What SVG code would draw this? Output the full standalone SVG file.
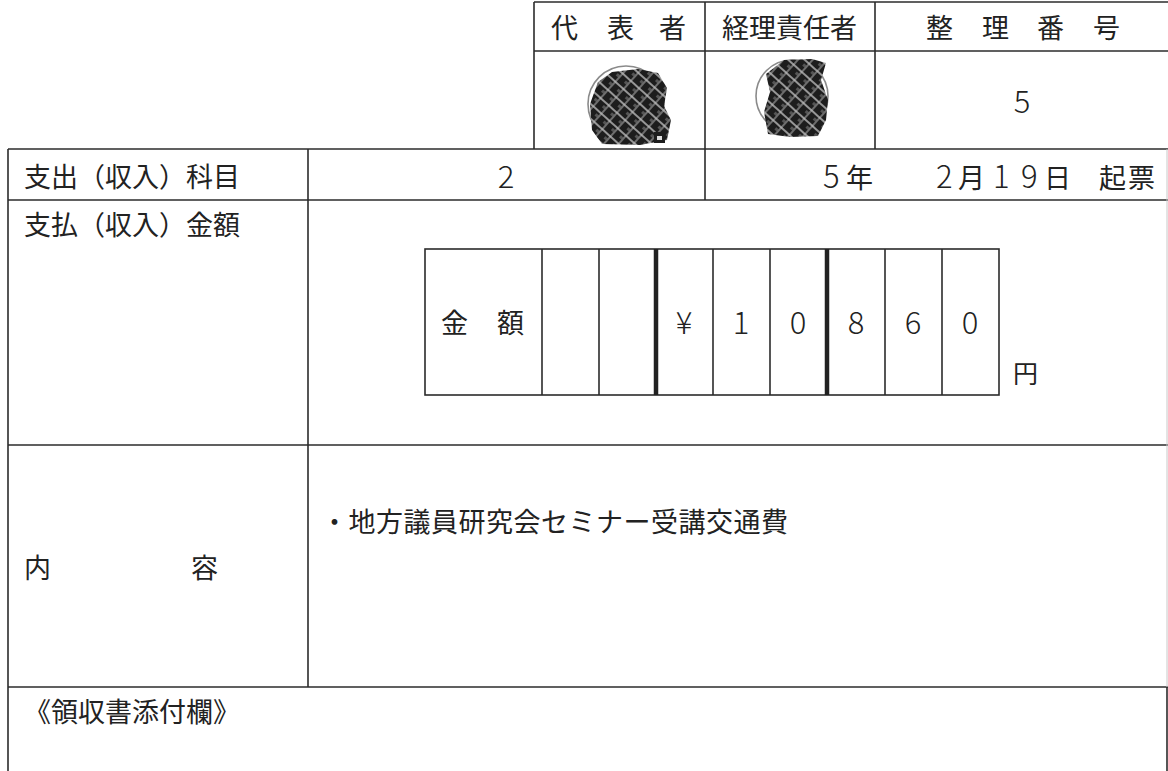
<svg xmlns="http://www.w3.org/2000/svg" width="1168" height="771" viewBox="0 0 1168 771">
<style>
.ln{stroke:#2b2b2b;stroke-width:1.6;fill:none}
.thk{stroke:#222;stroke-width:4.5;fill:none}
.t{font-family:"Noto Sans CJK JP","Noto Sans",sans-serif;font-size:27px;fill:#222}
.d{font-family:"Noto Sans CJK JP","Noto Sans",sans-serif;font-size:31px;fill:#222;font-weight:300}
.mid{text-anchor:middle}
.ring{stroke:#8a8a8a;stroke-width:1.6;fill:none}
</style>
<defs>
<pattern id="hatch" width="11" height="11" patternUnits="userSpaceOnUse" patternTransform="rotate(42)">
<rect width="11" height="11" fill="#1d1d1d"/>
<line x1="0" y1="1" x2="11" y2="1" stroke="#d8d8d8" stroke-width="1.3"/>
<line x1="6" y1="0" x2="6" y2="11" stroke="#bdbdbd" stroke-width="1"/>
<rect x="2" y="4" width="3" height="3" fill="#555"/>
</pattern>
</defs>
<rect width="1168" height="771" fill="#ffffff"/>

<g id="lines">
<line class="ln" x1="534" y1="2" x2="1168" y2="2"/>
<line class="ln" x1="534" y1="51" x2="1168" y2="51"/>
<line class="ln" x1="534" y1="2" x2="534" y2="149"/>
<line class="ln" x1="705" y1="2" x2="705" y2="149"/>
<line class="ln" x1="875" y1="2" x2="875" y2="149"/>
<line class="ln" x1="8" y1="149" x2="1168" y2="149"/>
<line class="ln" x1="8" y1="200" x2="1168" y2="200"/>
<line class="ln" x1="8" y1="445" x2="1168" y2="445"/>
<line class="ln" x1="8" y1="687" x2="1168" y2="687"/>
<line class="ln" x1="8" y1="149" x2="8" y2="771"/>
<line class="ln" x1="308" y1="149" x2="308" y2="687"/>
<line class="ln" x1="705" y1="149" x2="705" y2="200"/>
<line x1="1167" y1="149" x2="1167" y2="687" stroke="#c8c8c8" stroke-width="1"/>
<line class="ln" x1="1167" y1="687" x2="1167" y2="771"/>
</g>

<g id="approval-header">
<text class="t" y="38"><tspan x="551">代</tspan><tspan x="607">表</tspan><tspan x="659">者</tspan></text>
<text class="t" x="722" y="38">経理責任者</text>
<text class="t" y="38"><tspan x="926">整</tspan><tspan x="982">理</tspan><tspan x="1037">番</tspan><tspan x="1093">号</tspan></text>
</g>

<g id="stamp-representative">
<circle class="ring" cx="626" cy="104" r="38"/>
<path d="M598,82 L612,72 L638,69 L658,73 L667,88 L664,106 L671,120 L667,140 L640,145 L602,144 L592,130 L590,104 Z" fill="url(#hatch)"/>
<rect x="654" y="132" width="11" height="11" fill="#1d1d1d"/>
<rect x="657" y="136" width="5" height="4" fill="#ddd"/>
</g>

<g id="stamp-accounting">
<circle class="ring" cx="792" cy="96" r="36"/>
<path d="M766,74 L784,60 L812,59 L826,63 L821,80 L828,100 L826,120 L818,136 L790,137 L768,134 L764,112 L770,92 Z" fill="url(#hatch)"/>
</g>

<g id="serial-number">
<text class="d mid" x="1022" y="113">5</text>
</g>

<g id="row-account">
<text class="t" x="24" y="187">支出（収入）科目</text>
<text class="d mid" x="506" y="188">2</text>
<text class="t" y="188"><tspan class="d" x="823">5</tspan><tspan x="846">年</tspan></text>
<text class="t" y="188"><tspan class="d" x="936">2</tspan><tspan x="958">月</tspan><tspan class="d" x="993">1</tspan><tspan class="d" x="1021">9</tspan><tspan x="1044">日</tspan><tspan x="1099">起</tspan><tspan x="1128">票</tspan></text>
</g>

<g id="row-amount">
<text class="t" x="24" y="235">支払（収入）金額</text>
<g id="amount-box">
<rect class="ln" x="425" y="249" width="574" height="146"/>
<line class="ln" x1="542" y1="249" x2="542" y2="395"/>
<line class="ln" x1="599" y1="249" x2="599" y2="395"/>
<line class="thk" x1="656" y1="249" x2="656" y2="395"/>
<line class="ln" x1="713" y1="249" x2="713" y2="395"/>
<line class="ln" x1="770" y1="249" x2="770" y2="395"/>
<line class="thk" x1="827" y1="249" x2="827" y2="395"/>
<line class="ln" x1="885" y1="249" x2="885" y2="395"/>
<line class="ln" x1="942" y1="249" x2="942" y2="395"/>
<text class="t" y="333"><tspan x="441">金</tspan><tspan x="497">額</tspan></text>
<text class="d mid" x="684" y="334">¥</text>
<text class="d mid" x="741" y="334">1</text>
<text class="d mid" x="798" y="334">0</text>
<text class="d mid" x="856" y="334">8</text>
<text class="d mid" x="913" y="334">6</text>
<text class="d mid" x="970" y="334">0</text>
</g>
<text class="t" x="1013" y="383" style="font-size:25px">円</text>
</g>

<g id="row-content">
<text class="t" x="24" y="578">内</text>
<text class="t" x="191" y="578">容</text>
<text class="t" x="321" y="532" style="letter-spacing:0.5px">・地方議員研究会セミナー受講交通費</text>
</g>

<g id="row-receipt">
<text class="t" x="24" y="722">《領収書添付欄》</text>
</g>
</svg>
